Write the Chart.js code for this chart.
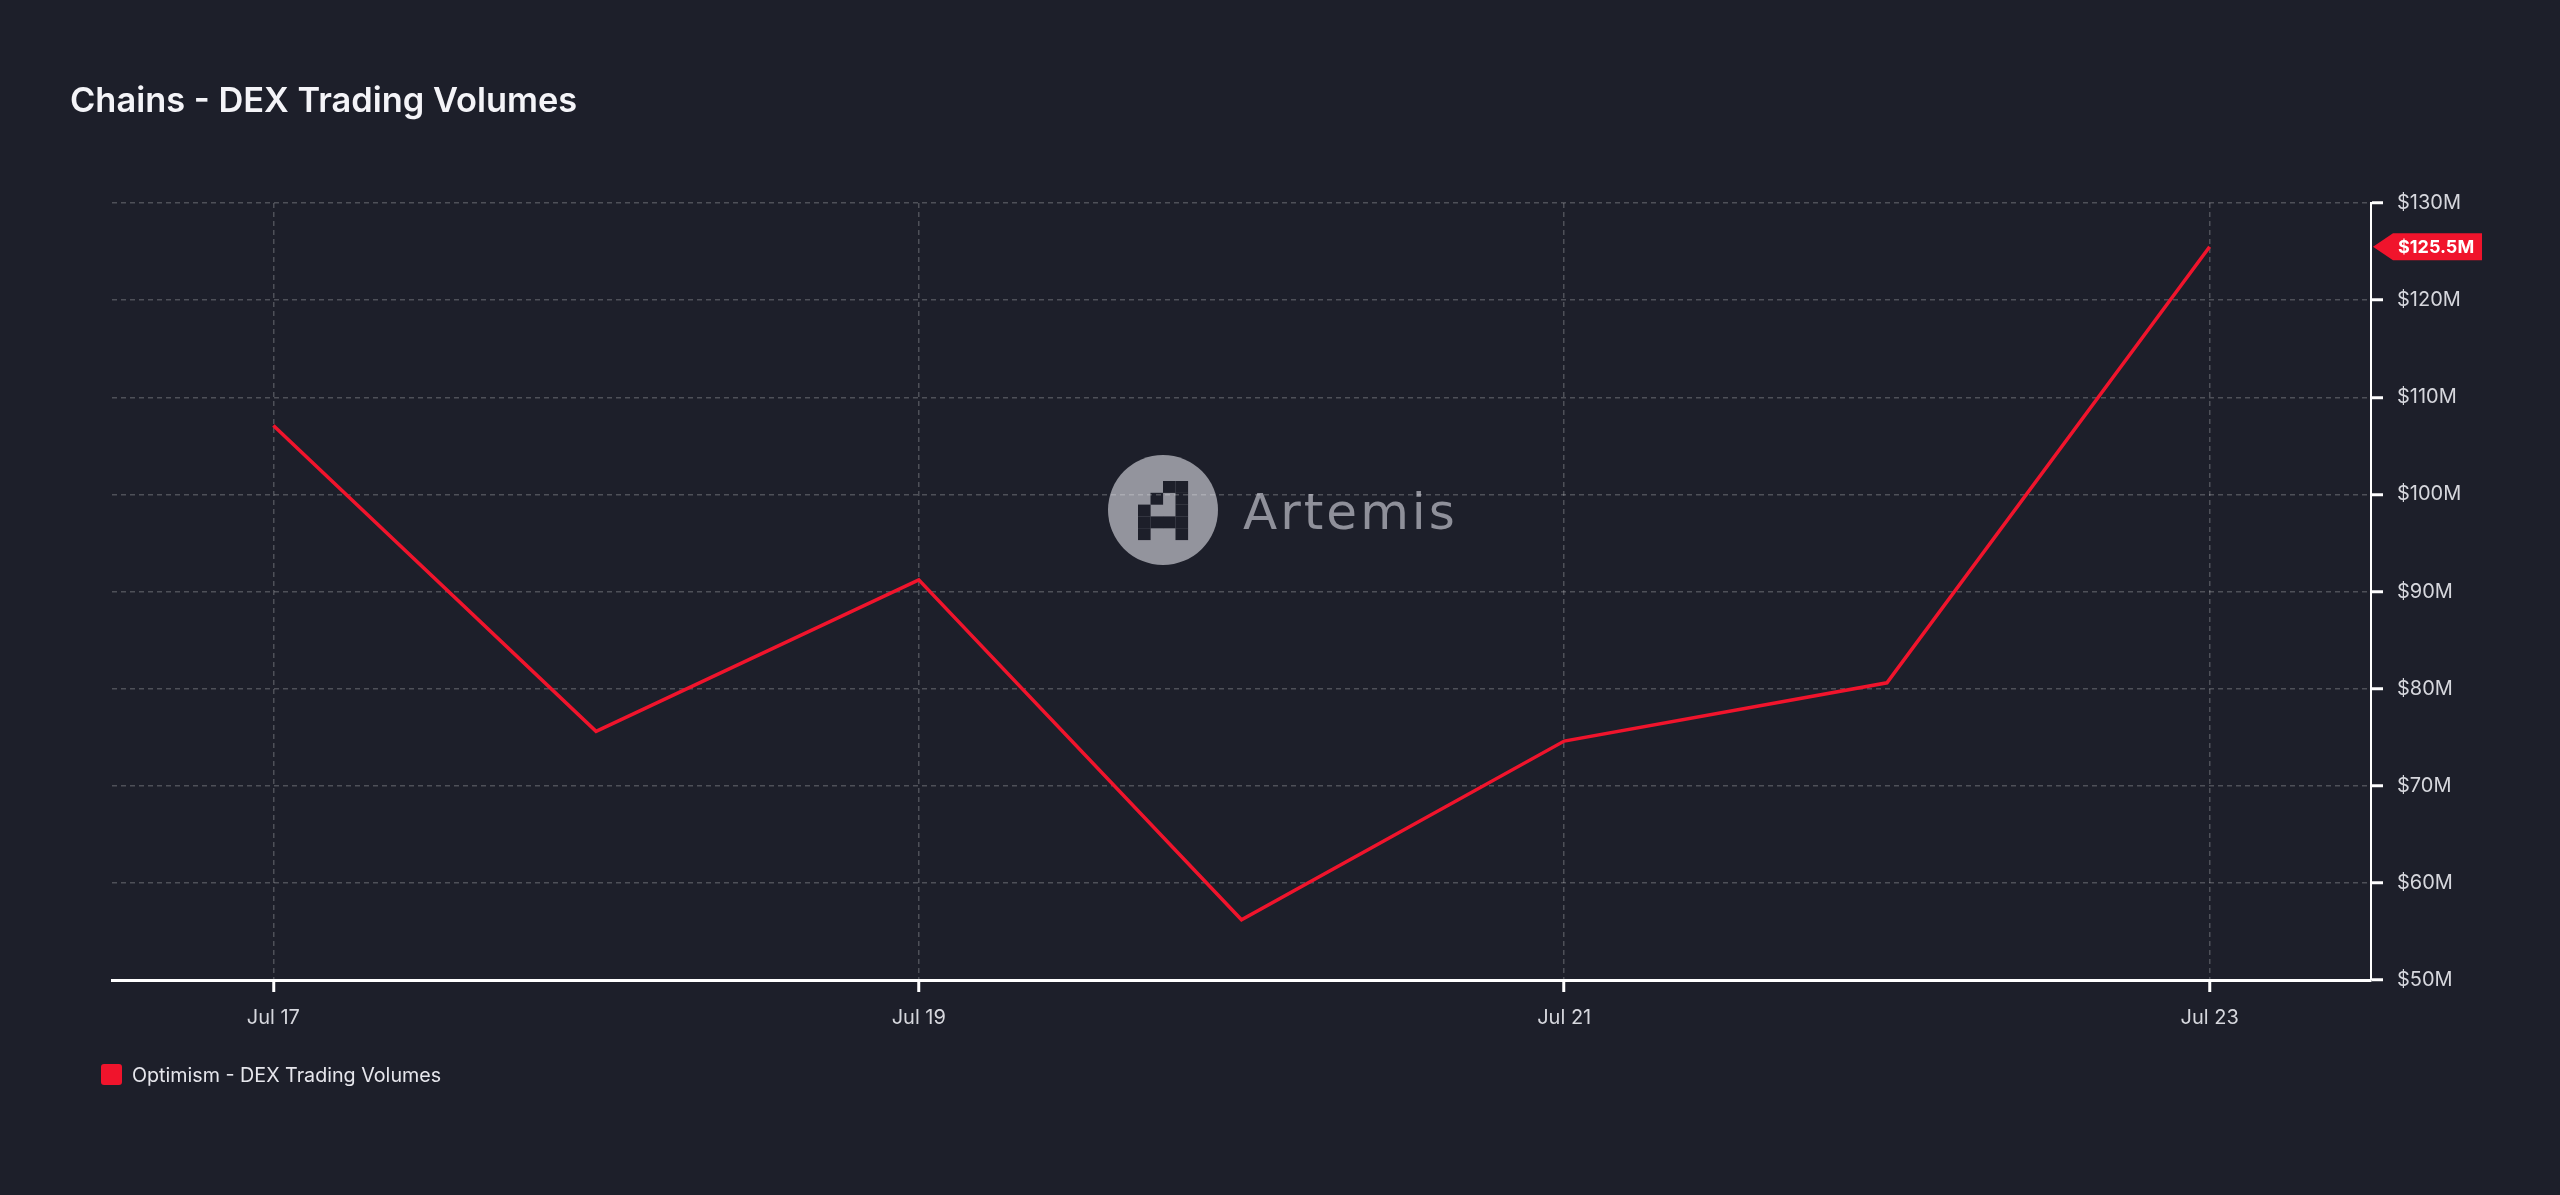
<!DOCTYPE html>
<html>
<head>
<meta charset="utf-8">
<script src="https://cdn.jsdelivr.net/npm/chart.js@4.4.1/dist/chart.umd.min.js"></script>
<style>
    html, body {
        margin: 0;
        padding: 0;
        background: #1d1f2a;
        font-family: "Inter", sans-serif;
    }
    #wrap {
        position: relative;
        width: 2560px;
        height: 1195px;
    }
    #title {
        position: absolute;
        left: 70px;
        top: 83px;
        font-size: 34.4px;
        line-height: 34px;
        font-weight: 600;
        color: #f4f4f8;
    }
    #legend {
        position: absolute;
        left: 101px;
        top: 1064px;
        display: flex;
        align-items: center;
        font-size: 19.7px;
        line-height: 20px;
        color: #e6e6ec;
    }
    #legend .box {
        width: 21px;
        height: 21px;
        border-radius: 3px;
        background: #f0142c;
        margin-right: 10px;
    }
</style>
</head>
<body>
<div id="wrap">
    <canvas id="dexChart" width="2560" height="1195"></canvas>
    <div id="title">Chains - DEX Trading Volumes</div>
    <div id="legend"><span class="box"></span><span id="legendText"></span></div>
</div>
<script>
const days = ["Jul 17", "Jul 18", "Jul 19", "Jul 20", "Jul 21", "Jul 22", "Jul 23"];
// millions of USD
const optimismVolumes = [107.1, 75.6, 91.2, 56.2, 74.6, 80.6, 125.5];
const seriesName = "Optimism - DEX Trading Volumes";
const yMin = 50;
const yMax = 130;
const yStep = 10;

const red = "#f0142c";
const gridColor = "rgba(255, 255, 255, 0.22)";

document.getElementById("legendText").textContent = seriesName;

Chart.defaults.font.family = "Inter";
Chart.defaults.font.size = 20;
Chart.defaults.color = "#d6d7dd";

// Artemis watermark behind the grid
const watermark = {
    id: "watermark",
    beforeDraw(chart) {
        const ctx = chart.ctx;
        ctx.save();
        ctx.fillStyle = "#93949d";
        ctx.beginPath();
        ctx.arc(1163, 510, 55, 0, Math.PI * 2);
        ctx.fill();

        const cells = ["0011", "0101", "1001", "1111", "1001"];
        ctx.fillStyle = "#1d1f2a";
        cells.forEach((row, r) => {
            for (let c = 0; c < row.length; c++) {
                if (row[c] === "1") {
                    ctx.fillRect(1138 + c * 12.5, 481 + r * 11.8, 12.6, 11.9);
                }
            }
        });

        ctx.fillStyle = "#8f909a";
        ctx.font = "400 50px 'DejaVu Sans'";
        ctx.letterSpacing = "3px";
        ctx.textBaseline = "alphabetic";
        ctx.fillText("Artemis", 1243, 529);
        ctx.restore();
    }
};

// red price tag for the last value
const lastValueTag = {
    id: "lastValueTag",
    afterDraw(chart) {
        const ctx = chart.ctx;
        const data = chart.data.datasets[0].data;
        const last = data[data.length - 1];
        const y = chart.scales.y.getPixelForValue(last);
        const x = chart.chartArea.right + 2;
        ctx.save();
        ctx.fillStyle = red;
        ctx.beginPath();
        ctx.moveTo(x, y);
        ctx.lineTo(x + 20, y - 13.5);
        ctx.lineTo(x + 109, y - 13.5);
        ctx.lineTo(x + 109, y + 13.5);
        ctx.lineTo(x + 20, y + 13.5);
        ctx.closePath();
        ctx.fill();
        ctx.fillStyle = "#ffffff";
        ctx.font = "700 18px Inter";
        ctx.textBaseline = "middle";
        ctx.fillText("$" + last + "M", x + 25, y + 1);
        ctx.restore();
    }
};

const dexChart = new Chart(
    document.getElementById("dexChart"),
    {
        type: "line",
        data: {
            labels: days,
            datasets: [{
                label: seriesName,
                data: optimismVolumes,
                borderColor: red,
                backgroundColor: red,
                borderWidth: 3.5,
                pointRadius: 0,
                tension: 0
            }]
        },
        options: {
            responsive: false,
            animation: false,
            layout: {
                padding: { left: 112, top: 203, right: 0, bottom: 0 }
            },
            plugins: {
                legend: { display: false },
                title: { display: false },
                tooltip: { enabled: false }
            },
            scales: {
                x: {
                    type: "category",
                    offset: true,
                    afterFit(scale) { scale.height = 215; },
                    grid: {
                        color: (c) => c.index % 2 === 0 ? gridColor : "transparent",
                        tickColor: (c) => c.index % 2 === 0 ? "#ffffff" : "transparent",
                        tickLength: 12,
                        tickWidth: 3,
                        lineWidth: 1.5
                    },
                    border: {
                        color: "#ffffff",
                        width: 3,
                        dash: [5, 4]
                    },
                    ticks: {
                        autoSkip: false,
                        maxRotation: 0,
                        padding: 14,
                        callback(value, index) {
                            return index % 2 === 0 ? this.getLabelForValue(value) : "";
                        }
                    }
                },
                y: {
                    position: "right",
                    min: yMin,
                    max: yMax,
                    afterFit(scale) { scale.width = 189; },
                    grid: {
                        color: gridColor,
                        tickColor: "#ffffff",
                        tickLength: 12,
                        tickWidth: 3,
                        lineWidth: 1.5
                    },
                    border: {
                        color: "#ffffff",
                        width: 2,
                        dash: [5, 4]
                    },
                    ticks: {
                        stepSize: yStep,
                        padding: 14,
                        callback: (v) => "$" + v + "M"
                    }
                }
            }
        },
        plugins: [watermark, lastValueTag]
    }
);
</script>
</body>
</html>
